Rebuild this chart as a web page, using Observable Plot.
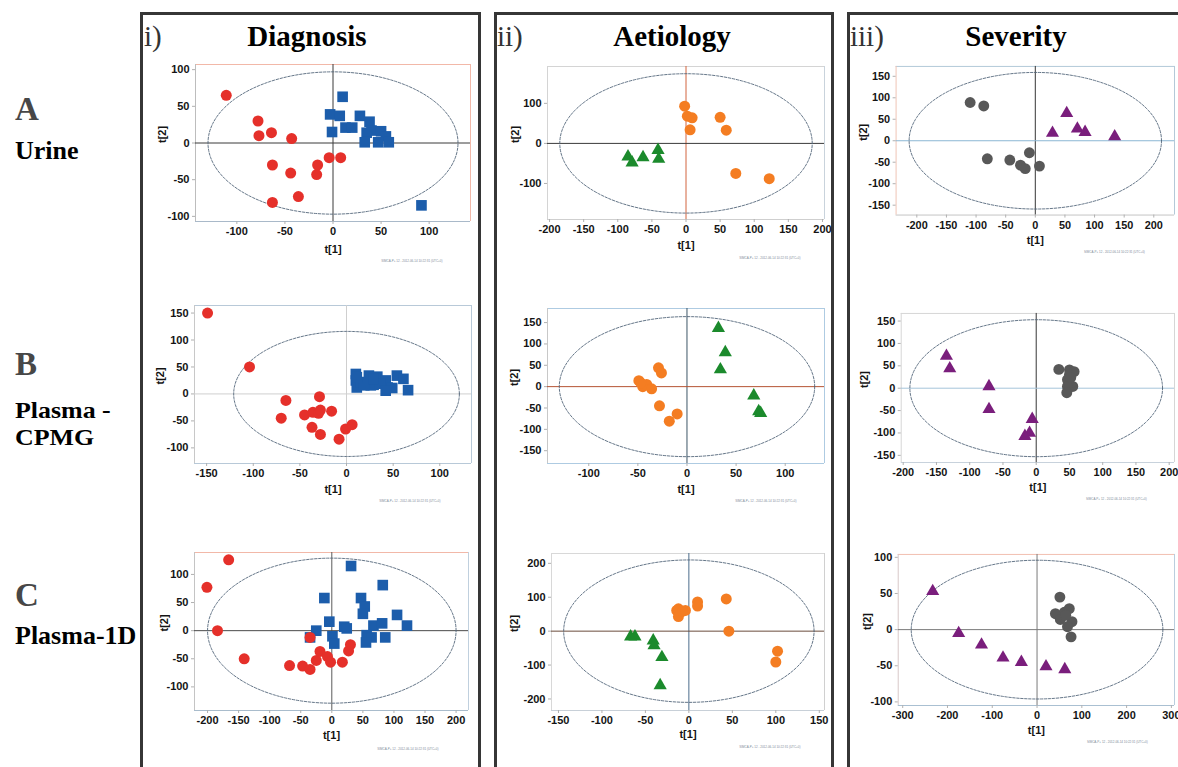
<!DOCTYPE html>
<html>
<head>
<meta charset="utf-8">
<script src="https://cdn.jsdelivr.net/npm/d3@7"></script>
<script src="https://cdn.jsdelivr.net/npm/@observablehq/plot@0.6"></script>
<style>
  html, body { margin: 0; padding: 0; background: #fff; }
  #page { position: relative; width: 1178px; height: 767px; overflow: hidden; background: #fff; }
  .box { position: absolute; top: 12px; height: 800px; border: 3px solid #363636; box-sizing: border-box; }
  .hdr { position: absolute; font-family: 'Liberation Serif', 'Times New Roman', serif; font-size: 29px; line-height: 29px; white-space: nowrap; }
  .num { font-weight: normal; color: #333; }
  .ttl { font-weight: bold; color: #000; }
  .lab { position: absolute; left: 15px; font-family: 'Liberation Serif', 'Times New Roman', serif; font-weight: bold; white-space: nowrap; }
  .big { font-size: 33px; line-height: 33px; color: #474747; }
  .sm { font-size: 26px; line-height: 26px; color: #000; }
  .two { font-size: 24px; line-height: 27px; color: #000; transform: scaleX(1.08); transform-origin: left top; }
  .panel { position: absolute; }
</style>
</head>
<body>
<div id="page">
  <div class="box" style="left:140px;width:341px"></div>
  <div class="box" style="left:494px;width:340px"></div>
  <div class="box" style="left:847px;width:345px"></div>

  <div class="hdr num" style="left:144px;top:22px">i)</div>
  <div class="hdr ttl" style="left:307px;top:22px;transform:translateX(-50%)">Diagnosis</div>
  <div class="hdr num" style="left:497px;top:22px">ii)</div>
  <div class="hdr ttl" style="left:672px;top:22px;transform:translateX(-50%)">Aetiology</div>
  <div class="hdr num" style="left:850px;top:22px">iii)</div>
  <div class="hdr ttl" style="left:1016px;top:22px;transform:translateX(-50%)">Severity</div>

  <div class="lab big" style="top:93px">A</div>
  <div class="lab sm" style="top:138px">Urine</div>
  <div class="lab big" style="top:348px">B</div>
  <div class="lab two" style="top:397px">Plasma -<br>CPMG</div>
  <div class="lab big" style="top:579px">C</div>
  <div class="lab sm" style="top:623px">Plasma-1D</div>
</div>
<script>
// ---------------- DATA ----------------
// Row A – Urine
const urineDiagRed  = [[-111,65],[-78,30],[-77,10],[-64,14],[-43,6],[-63,-30],[-44,-41],[-16,-30],[-17,-43],[-4,-20],[8,-20],[-36,-73],[-63,-81]];
const urineDiagBlue = [[10,63],[-3,39],[7,37],[28,37],[38,29],[13,21],[20,21],[-1,15],[40,17],[35,14],[50,16],[55,9],[33,1],[47,1],[58,1],[92,-85]];
const urineAetOrange = [[-2,93],[2,68],[9,64],[6,34],[50,65],[59,33],[73,-75],[122,-88]];
const urineAetGreen  = [[-85,-33],[-79,-48],[-63,-35],[-41,-17],[-40,-39]];
const urineSevGray   = [[-110,89],[-87,81],[-81,-42],[-43,-45],[-25,-57],[-17,-65],[-10,-28],[7,-59]];
const urineSevPurple = [[29,18],[53,64],[71,28],[84,20],[134,10]];
// Row B – Plasma CPMG
const cpmgDiagRed  = [[-149,150],[-104,50],[-65,-12],[-70,-45],[-29,-5],[-45,-39],[-36,-34],[-30,-36],[-28,-30],[-16,-32],[-37,-62],[-28,-75],[-8,-84],[-1,-65],[6,-57]];
const cpmgDiagBlue = [[10,37],[10,25],[11,12],[15,22],[24,34],[26,16],[33,32],[29,17],[42,25],[44,12],[49,11],[54,34],[61,28],[66,7],[19,16],[36,19],[11,31],[29,28],[42,6]];
const cpmgAetOrange = [[-49,14],[-45,0],[-41,5],[-36,-5],[-29,44],[-26,32],[-28,-45],[-10,-64],[-18,-81],[-47,9]];
const cpmgAetGreen  = [[32,137],[39,80],[34,40],[68,-21],[73,-58],[75,-62]];
const cpmgSevPurple = [[-135,72],[-130,44],[-71,4],[-71,-47],[-6,-69],[-10,-100],[-17,-107]];
const cpmgSevGray   = [[34,42],[50,41],[57,37],[50,30],[47,19],[55,4],[47,4],[46,-10],[52,24]];
// Row C – Plasma 1D
const oneDDiagRed  = [[-166,126],[-201,77],[-184,0],[-141,-50],[-68,-62],[-47,-63],[-35,-69],[-35,-12],[-25,-53],[-19,-37],[-7,-46],[-2,-56],[17,-56],[27,-36],[30,-25]];
const oneDDiagBlue = [[31,115],[82,81],[-12,58],[47,58],[53,43],[50,30],[105,28],[-4,16],[-25,0],[-35,-12],[20,7],[24,4],[1,-10],[4,-23],[67,9],[81,13],[121,9],[56,-8],[64,-12],[55,-21],[86,-12]];
const oneDAetOrange = [[-14,61],[-12,66],[-12,43],[-7,59],[-4,61],[10,86],[10,74],[43,95],[46,0],[102,-59],[100,-91]];
const oneDAetGreen  = [[-67,-16],[-62,-16],[-41,-28],[-40,-42],[-31,-77],[-33,-160]];
const oneDSevPurple = [[-233,53],[-175,-5],[-124,-21],[-76,-39],[-35,-45],[20,-51],[62,-55]];
const oneDSevGray   = [[51,45],[41,22],[61,24],[72,29],[52,14],[78,11],[68,4],[76,-10],[64,20]];

// Axis domains, ticks and ellipse (Hotelling T2) radii per panel
const xDomains = [[-143,143],[-203,203],[-235,235],[-163,134],[-142,140],[-203,208],[-221,220],[-158,156],[-310,307]];
const yDomains = [[-107,107],[-190,192],[-173,173],[-129,164],[-180,183],[-166,167],[-142,139],[-234,229],[-105,104]];
const xTicks = [
  [-100,-50,0,50,100],
  [-200,-150,-100,-50,0,50,100,150,200],
  [-200,-150,-100,-50,0,50,100,150,200],
  [-150,-100,-50,0,50,100],
  [-100,-50,0,50,100],
  [-200,-150,-100,-50,0,50,100,150,200],
  [-200,-150,-100,-50,0,50,100,150,200],
  [-150,-100,-50,0,50,100,150],
  [-300,-200,-100,0,100,200,300]
];
const yTicks = [
  [-100,-50,0,50,100],
  [-100,0,100],
  [-150,-100,-50,0,50,100,150],
  [-100,-50,0,50,100,150],
  [-150,-100,-50,0,50,100,150],
  [-150,-100,-50,0,50,100,150],
  [-100,-50,0,50,100],
  [-200,-100,0,100,200],
  [-100,-50,0,50,100]
];
const ellipseRadii = [[130,97],[185,174],[213,159],[121,116],[130,164],[190,153],[200,129],[144,210],[281,96]];
const xLabel = "t[1]", yLabel = "t[2]";
const footNote = "SIMCA-P+ 12 - 2012-06-14 10:22:31 (UTC+0)";

// ---------------- STYLE / LAYOUT ----------------
const RED = "#e5302a", BLUE = "#1c5dab", ORANGE = "#f47d22", GREEN = "#1b8a2c", PURPLE = "#7a1e7c", GRAY = "#585858";
const series = [
  [[urineDiagRed, RED, "circle"], [urineDiagBlue, BLUE, "square"]],
  [[urineAetOrange, ORANGE, "circle"], [urineAetGreen, GREEN, "triangle"]],
  [[urineSevGray, GRAY, "circle"], [urineSevPurple, PURPLE, "triangle"]],
  [[cpmgDiagRed, RED, "circle"], [cpmgDiagBlue, BLUE, "square"]],
  [[cpmgAetOrange, ORANGE, "circle"], [cpmgAetGreen, GREEN, "triangle"]],
  [[cpmgSevPurple, PURPLE, "triangle"], [cpmgSevGray, GRAY, "circle"]],
  [[oneDDiagBlue, BLUE, "square"], [oneDDiagRed, RED, "circle"]],
  [[oneDAetOrange, ORANGE, "circle"], [oneDAetGreen, GREEN, "triangle"]],
  [[oneDSevPurple, PURPLE, "triangle"], [oneDSevGray, GRAY, "circle"]]
];
// frame box in page pixels: L, R, T, B ; label positions
const layout = [
  {L:195,R:470,T:64, B:221, ty:162, tx:252, fx:442, fy:261},
  {L:547,R:824,T:66, B:219, ty:515, tx:248, fx:800, fy:258},
  {L:896,R:1177,T:66,B:216, ty:863, tx:245, fx:1147,fy:254},
  {L:194,R:471,T:305,B:463, ty:160, tx:492, fx:440, fy:501},
  {L:547,R:824,T:308,B:463, ty:514, tx:492, fx:796, fy:501},
  {L:901,R:1176,T:313,B:463,ty:864, tx:492, fx:1148,fy:501},
  {L:194,R:468,T:552,B:710, ty:164, tx:738, fx:438, fy:749},
  {L:551,R:824,T:553,B:710, ty:514, tx:737, fx:800, fy:747},
  {L:898,R:1176,T:554,B:706,ty:867, tx:735, fx:1149,fy:744}
];
// frame edge colours [top,right,bottom,left], zero-line colours [vertical x=0, horizontal y=0]
const frameCols = [
  ["#f2b8a8","#f2b8a8","#a9b9c9","#bdbdbd"],
  ["#d4d4d4","#c9d3dc","#cfcfcf","#d4d4d4"],
  ["#b2c8d8","#b2c8d8","#c4c4c4","#f0c4b4"],
  ["#b8c9d8","#b8c9d8","#b8c9d8","#c8c8c8"],
  ["#aecbe2","#aecbe2","#aecbe2","#c8c8c8"],
  ["#d6d6d6","#d6d6d6","#c8d2dc","#d6d6d6"],
  ["#f2b8a8","#c0d0de","#a9bccc","#c4c4c4"],
  ["#d8d8d8","#d0d0d0","#c8d0d8","#d8d8d8"],
  ["#f2c0b0","#b8cede","#a9c0d2","#d8c8c8"]
];
const zeroCols = [
  ["#3a3a3a","#3a3a3a"],
  ["#d2643e","#3a3a3a"],
  ["#333","#8ab6d2"],
  ["#cfcfcf","#cfcfcf"],
  ["#3d5566","#b55434"],
  ["#333","#a4c4da"],
  ["#5a5a5a","#4a4a4a"],
  ["#4c6c8c","#6a4c3c"],
  ["#7a7a7a","#7a7a7a"]
];

const mL = 45, mR = 4, mT = 8, mB = 46;
const FONT = "'Liberation Sans', Arial, sans-serif";
const page = document.getElementById("page");

layout.forEach((g, i) => {
  const xd = xDomains[i], yd = yDomains[i];
  const [rx, ry] = ellipseRadii[i];
  const ell = d3.range(0, 361, 2).map(a => [rx * Math.cos(a * Math.PI / 180), ry * Math.sin(a * Math.PI / 180)]);
  const fc = frameCols[i], zc = zeroCols[i];
  const W = g.R - g.L + mL + mR, H = g.B - g.T + mT + mB;
  const marks = [
    Plot.ruleY([yd[1]], {stroke: fc[0], strokeWidth: 1}),
    Plot.ruleX([xd[1]], {stroke: fc[1], strokeWidth: 1}),
    Plot.ruleY([yd[0]], {stroke: fc[2], strokeWidth: 1}),
    Plot.ruleX([xd[0]], {stroke: fc[3], strokeWidth: 1}),
    Plot.ruleX([0], {stroke: zc[0], strokeWidth: 1}),
    Plot.ruleY([0], {stroke: zc[1], strokeWidth: 1}),
    Plot.line(ell, {x: d => d[0], y: d => d[1], stroke: "#53667a", strokeWidth: 0.9, strokeDasharray: "2.5,1.5"}),
    Plot.axisX({ticks: xTicks[i], tickFormat: d => String(d), tickSize: 3, tickPadding: 3, fontSize: 11, fontWeight: "bold", fill: "#141414", stroke: "#b0b0b0", label: null}),
    Plot.axisY({ticks: yTicks[i], tickFormat: d => String(d), tickSize: 3, tickPadding: 3, fontSize: 11, fontWeight: "bold", fill: "#141414", stroke: "#b0b0b0", label: null}),
    ...series[i].map(([data, color, symbol]) =>
      Plot.dot(data, {x: d => d[0], y: d => d[1], symbol, fill: color, stroke: "none",
        r: symbol === "circle" ? 5.5 : symbol === "square" ? 6 : 4.9})),
    Plot.text([xLabel], {frameAnchor: "bottom", dy: g.tx - g.B, fontSize: 11, fontWeight: "bold", fill: "#141414"}),
    Plot.text([yLabel], {frameAnchor: "left", dx: g.ty - g.L, rotate: -90, fontSize: 11, fontWeight: "bold", fill: "#141414"}),
    Plot.text([footNote], {frameAnchor: "bottom-right", textAnchor: "end", dx: g.fx - g.R, dy: g.fy - g.B, fontSize: 3, fill: "#7d8a98"})
  ];
  const svg = Plot.plot({
    width: W, height: H,
    marginLeft: mL, marginRight: mR, marginTop: mT, marginBottom: mB,
    x: {domain: xd}, y: {domain: yd},
    style: {background: "transparent", fontFamily: FONT, overflow: "visible"},
    marks
  });
  const wrap = document.createElement("div");
  wrap.className = "panel";
  wrap.style.left = (g.L - mL) + "px";
  wrap.style.top = (g.T - mT) + "px";
  wrap.appendChild(svg);
  page.appendChild(wrap);
});
</script>
</body>
</html>
